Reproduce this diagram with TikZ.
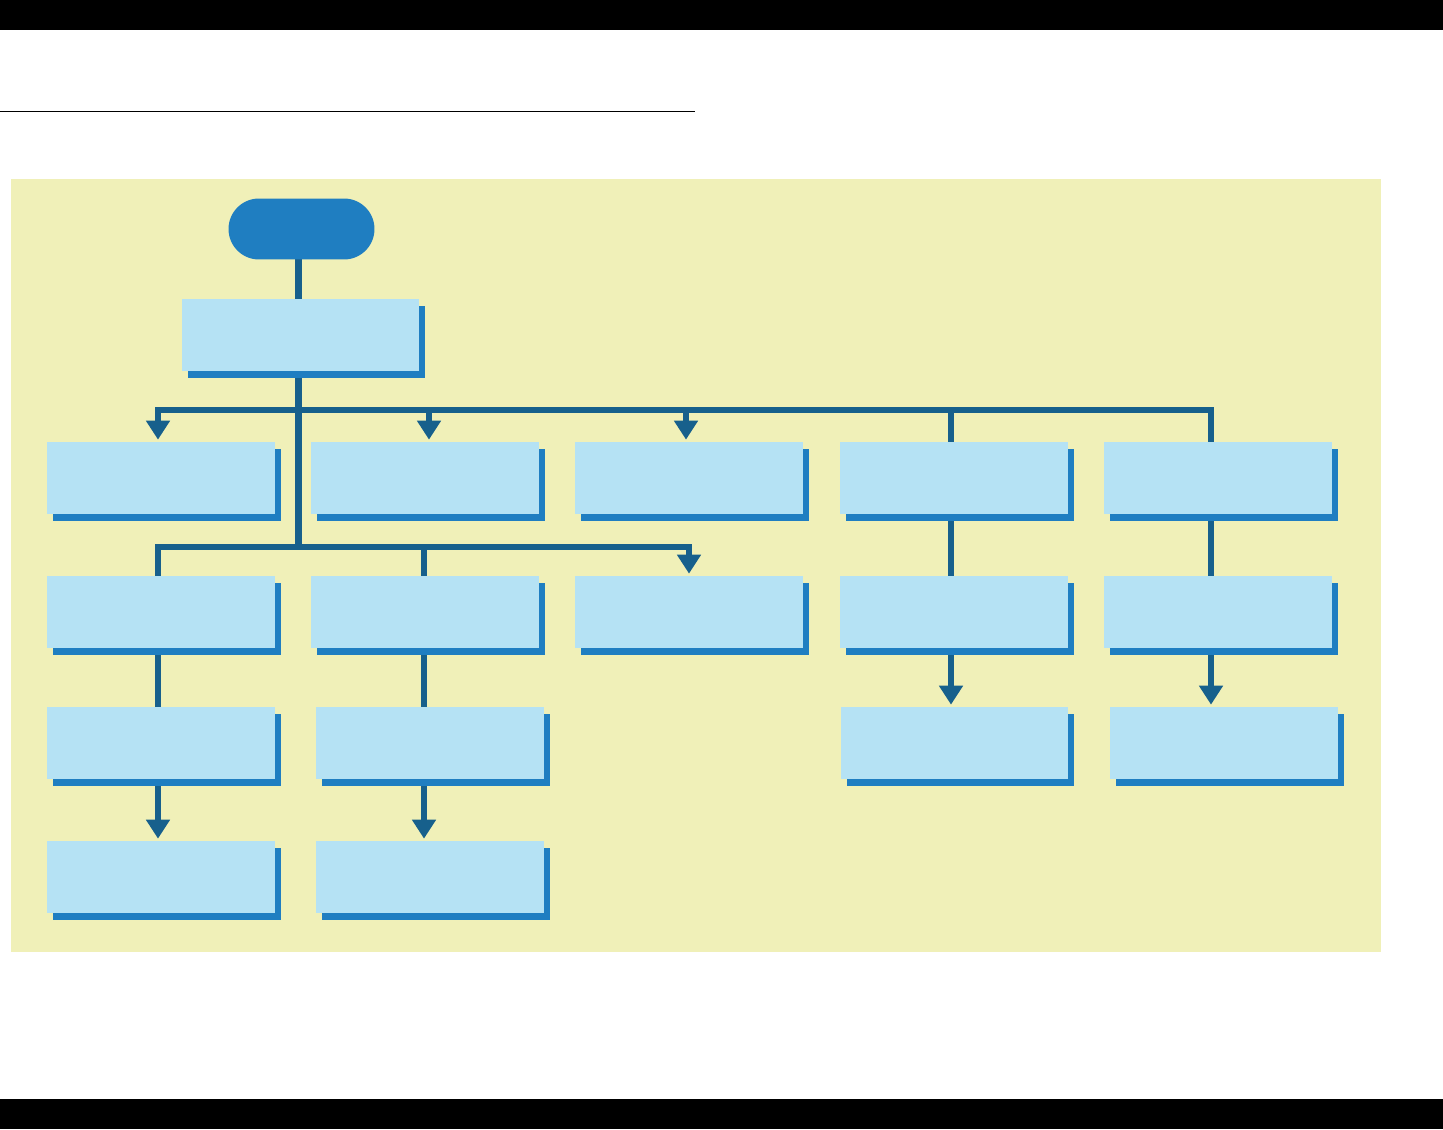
\documentclass[tikz,border=0pt]{standalone}
\usepackage{tikz}
\usetikzlibrary{arrows.meta, positioning}
\usetikzlibrary{shapes.misc, shadows, backgrounds}
\definecolor{bgyellow}{RGB}{240,240,184}
\definecolor{boxfill}{RGB}{181,226,244}
\definecolor{shadeblue}{RGB}{31,126,193}
\definecolor{linkblue}{RGB}{23,96,140}

\begin{document}
\begin{tikzpicture}[
  x=0.02cm, y=-0.02cm,
  >={Triangle[width=0.46cm, length=0.38cm]},
  start/.style={rounded rectangle, fill=shadeblue,
                minimum width=2.92cm, minimum height=1.22cm, inner sep=0pt},
  box/.style={rectangle, fill=boxfill, minimum width=4.56cm, minimum height=1.44cm,
              inner sep=0pt,
              drop shadow={shadow xshift=0.12cm, shadow yshift=-0.14cm,
                           fill=shadeblue, opacity=1}},
  conn/.style={line width=0.13cm, linkblue, line cap=rect},
  arr/.style={conn, ->, shorten >=0.04cm}]
\useasboundingbox (0,0) rectangle (1443,1129);
% start and first step
\node[start] (begin) at (301.5,229) {};
\node[box, minimum width=4.74cm] (head) at (300.5,335) {};
% --- row 1 ---
\node[box] (a1) at (161,478)  {};
\node[box] (a2) at (425,478)  {};
\node[box] (a3) at (689,478)  {};
\node[box] (a4) at (954,478)  {};
\node[box] (a5) at (1218,478) {};
% --- row 2 ---
\node[box] (b1) at (161,612)  {};
\node[box] (b2) at (425,612)  {};
\node[box] (b3) at (689,612)  {};
\node[box] (b4) at (954,612)  {};
\node[box] (b5) at (1218,612) {};
% --- row 3 ---
\node[box] (c1) at (161,743)   {};
\node[box] (c2) at (430,743)   {};
\node[box] (c4) at (954.5,743) {};
\node[box] (c5) at (1224,743)  {};
% --- row 4 ---
\node[box] (d1) at (161,877) {};
\node[box] (d2) at (430,877) {};
% bus junctions
\coordinate (k1) at (298.5,410);
\coordinate (k2) at (298.5,547);
\coordinate (u1) at (158,410);  \coordinate (u2) at (429,410);
\coordinate (u3) at (686,410);  \coordinate (u4) at (951,410);
\coordinate (u5) at (1211,410);
\coordinate (l1) at (158,547);  \coordinate (l2) at (424,547);
\coordinate (l3) at (689,547);
\begin{scope}[on background layer]
% page frame
\fill[black] (0,0) rectangle (1443,30);
\fill[black] (0,1099) rectangle (1443,1129);
\draw[black, line width=0.02cm] (0,111) -- (695,111);
\fill[bgyellow] (11,179) rectangle (1381,952);
% trunk and buses
\draw[conn] (k1 |- begin) -- (k2);
\draw[conn] (u1) -- (u5);
\draw[conn] (l1) -- (l3);
% upper bus drops
\draw[arr] (u1) -- (u1 |- a1.north);
\draw[arr] (u2) -- (u2 |- a2.north);
\draw[arr] (u3) -- (u3 |- a3.north);
\draw[conn] (u4) -- (u4 |- b4);
\draw[conn] (u5) -- (u5 |- b5);
% lower bus drops
\draw[conn] (l1) -- (l1 |- c1);
\draw[conn] (l2) -- (l2 |- c2);
\draw[arr] (l3) -- (l3 |- b3.north);
% down the columns
\draw[arr] (l1 |- c1) -- (l1 |- d1.north);
\draw[arr] (l2 |- c2) -- (l2 |- d2.north);
\draw[arr] (u4 |- b4) -- (u4 |- c4.north);
\draw[arr] (u5 |- b5) -- (u5 |- c5.north);
\end{scope}
\end{tikzpicture}
\end{document}
